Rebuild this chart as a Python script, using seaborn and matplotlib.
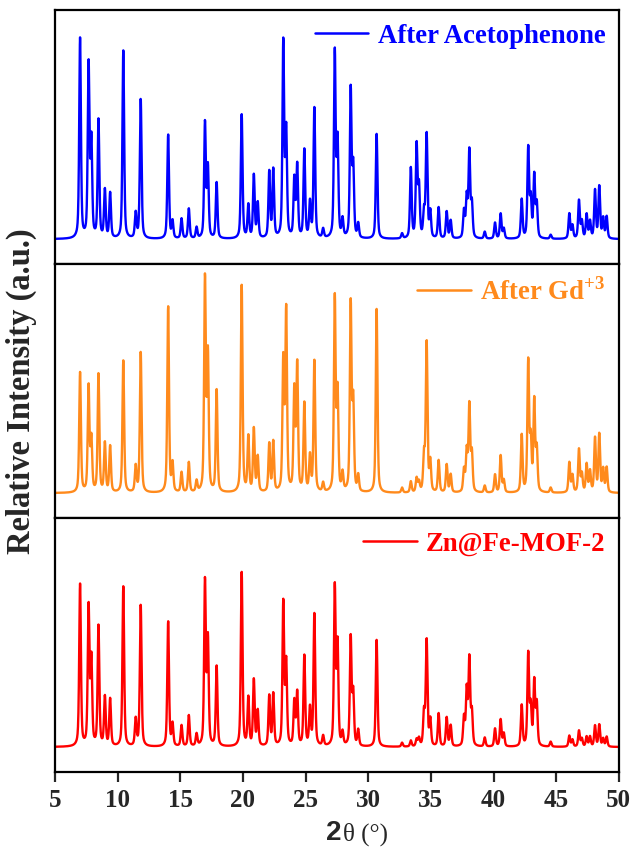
import numpy as np
import pandas as pd
import matplotlib
matplotlib.use("Agg")
import matplotlib.pyplot as plt
import seaborn as sns

# ---- data (peak positions in 2theta, heights in relative units) ----
peak_positions = [7.0, 7.68, 7.9, 8.47, 8.98, 9.4, 10.45, 11.44, 11.84, 14.03, 14.38, 15.1,
                  15.68, 16.3, 16.97, 17.2, 17.9, 19.9, 20.43, 20.87, 21.18, 22.1, 22.42,
                  23.22, 23.45, 24.1, 24.33, 24.9, 25.35, 25.7, 26.4, 27.33, 27.55, 27.95,
                  28.6, 28.8, 29.2, 30.67, 32.7, 33.4, 33.86, 34.05, 34.45, 34.66, 34.95,
                  35.62, 36.26, 36.58, 37.64, 37.86, 38.07, 38.27, 39.3, 40.12, 40.57, 40.82,
                  42.25, 42.77, 42.97, 43.25, 43.45, 44.56, 46.05, 46.3, 46.82, 47.05, 47.43,
                  47.7, 48.1, 48.44, 48.75, 49.03]

acetophenone_heights = [200, 172, 95, 118, 48, 45, 188, 25, 140, 104, 17, 20,
                        30, 11, 115, 70, 56, 124, 33, 63, 35, 66, 68,
                        195, 105, 58, 72, 88, 35, 130, 9, 185, 95, 18,
                        148, 70, 14, 105, 5, 70, 92, 50, 25, 104, 26,
                        31, 27, 18, 27, 40, 86, 34, 7, 16, 25, 10,
                        39, 90, 38, 62, 34, 4, 25, 13, 38, 17, 24,
                        17, 48, 52, 20, 22]

gd_heights = [120, 105, 52, 118, 49, 46, 132, 26, 141, 186, 28, 20,
              30, 11, 212, 135, 102, 207, 55, 63, 35, 48, 50,
              130, 180, 100, 126, 88, 35, 131, 9, 193, 98, 18,
              187, 88, 16, 184, 5, 11, 14, 10, 35, 150, 30,
              32, 28, 18, 22, 40, 86, 38, 7, 18, 37, 12,
              57, 130, 50, 90, 42, 5, 30, 17, 43, 18, 28,
              21, 54, 58, 23, 25]

mof_heights = [162, 138, 85, 120, 49, 47, 160, 27, 142, 125, 22, 21,
               31, 12, 164, 105, 80, 174, 48, 66, 35, 50, 52,
               143, 82, 44, 53, 90, 37, 132, 10, 158, 100, 13,
               108, 52, 16, 107, 4, 6, 7, 8, 33, 106, 26,
               33, 29, 21, 28, 55, 86, 33, 9, 18, 27, 13,
               41, 92, 38, 64, 42, 5, 11, 7, 16, 8, 10,
               10, 21, 22, 8, 10]

series_labels = ["After Acetophenone", r"After Gd$^{\mathbf{+3}}$", "Zn@Fe-MOF-2"]
series_colors = ["#0000FF", "#FF8A1C", "#FF0000"]
x_ticks = [5, 10, 15, 20, 25, 30, 35, 40, 45, 50]

# ---- build diffraction profiles from the peak table ----
grid = np.linspace(5, 50, 2701)


def profile(pos, heights, fwhm=0.16, eta=0.5):
    y = np.zeros_like(grid)
    s = fwhm / 2.3548
    g = fwhm / 2.0
    for p, h in zip(pos, heights):
        d = grid - p
        gauss = np.exp(-0.5 * (d / s) ** 2)
        lor = 1.0 / (1.0 + (d / g) ** 2)
        y += h * ((1 - eta) * gauss + eta * lor)
    return y


all_heights = [acetophenone_heights, gd_heights, mof_heights]

plt.rcParams["mathtext.fontset"] = "custom"
plt.rcParams["mathtext.rm"] = "Liberation Serif:bold"
plt.rcParams["mathtext.bf"] = "Liberation Serif:bold"
sns.set_style("ticks")
plt.rcParams["font.family"] = ["Liberation Serif", "DejaVu Sans"]

fig, axes = plt.subplots(3, 1, figsize=(6.36, 8.55), dpi=100, sharex=True)
fig.subplots_adjust(left=0.0865, right=0.973, top=0.988, bottom=0.097, hspace=0)

for ax, heights, label, color in zip(axes, all_heights, series_labels, series_colors):
    df = pd.DataFrame({"two_theta": grid, "intensity": profile(peak_positions, heights)})
    sns.lineplot(data=df, x="two_theta", y="intensity", ax=ax, color=color,
                 linewidth=1.7, label=label)
    ax.set_xlim(5, 50)
    ax.set_ylim(-25, 229)
    ax.set_yticks([])
    ax.set_ylabel("")
    ax.set_xlabel("")
    for sp in ax.spines.values():
        sp.set_visible(True)
        sp.set_linewidth(1.6)
        sp.set_color("black")
    leg = ax.legend(loc="upper right", frameon=False, handlelength=2.0,
                    handletextpad=0.35, borderaxespad=0.1, labelcolor="linecolor",
                    prop={"family": "Liberation Serif", "weight": "bold", "size": 19.3})
    for ln in leg.get_lines():
        ln.set_linewidth(1.8)
    ax.tick_params(axis="x", which="both", length=0)

bottom = axes[-1]
bottom.set_xticks(x_ticks)
bottom.set_xticklabels([str(t) for t in x_ticks], fontsize=18, fontweight="bold",
                       family="Liberation Serif")
bottom.tick_params(axis="x", direction="out", length=7, width=1.6, pad=5)

fig.text(0.033, 0.542, "Relative Intensity (a.u.)", rotation=90, ha="center", va="center",
         fontsize=23.5, fontweight="bold", family="Liberation Serif")
fig.text(0.5365, 0.017, "2", ha="right", va="baseline", fontsize=20, fontweight="bold",
         family="Liberation Sans")
fig.text(0.5395, 0.017, "θ (°)", ha="left", va="baseline", fontsize=18,
         family="Liberation Serif")

fig.savefig("out.png", dpi=100, facecolor="white")
